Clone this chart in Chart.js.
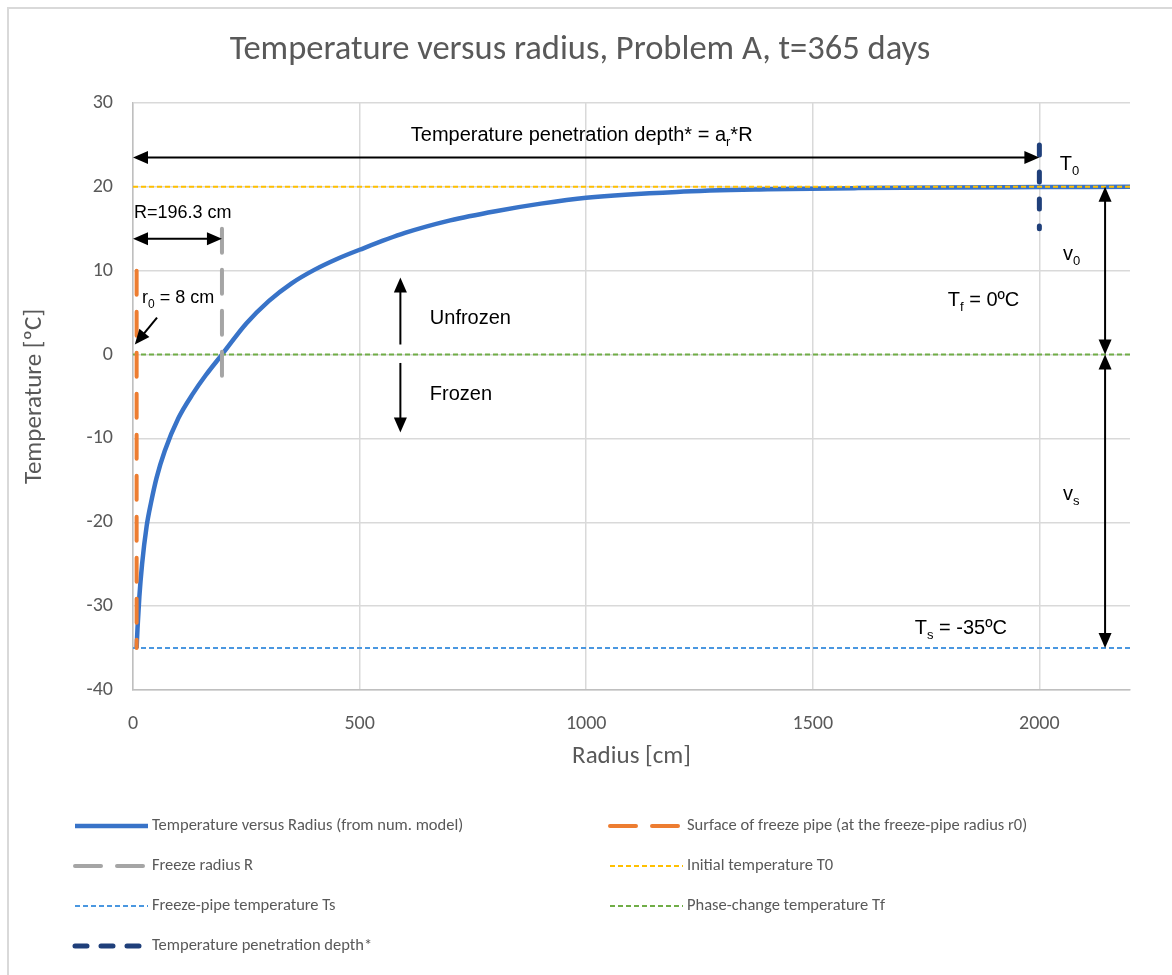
<!DOCTYPE html>
<html>
<head>
<meta charset="utf-8">
<script src="https://cdn.jsdelivr.net/npm/chart.js@4.4.0/dist/chart.umd.min.js"></script>
<style>
  body { margin: 0; background: #fff; }
  #wrap { width: 1172px; height: 975px; }
</style>
</head>
<body>
<div id="wrap"><canvas id="tempChart"></canvas></div>
<script>
// values
const radius = [8, 10, 14, 20, 30, 40, 52, 70, 100, 133, 160, 196.3, 250, 300, 350, 400, 450, 500, 600, 700, 800, 900, 1000, 1200, 1400, 1600, 1800, 2000, 2200];
const temperature = [-35, -32.6, -28.9, -25, -20.5, -17.6, -14.7, -11.5, -7.6, -4.6, -2.5, 0, 3.7, 6.4, 8.5, 10.1, 11.4, 12.5, 14.5, 16.0, 17.1, 18.0, 18.7, 19.4, 19.7, 19.85, 19.93, 19.97, 20];

const pipeRadius = 8;          // r0
const pipeLineT = [10, -35];
const freezeRadius = 196.3;    // R
const freezeLineT = [15, -3.5];
const depthRadius = 2000;      // penetration depth
const depthLineT = [25, 15];
const spanR = [0, 2200];
const T0 = 20;
const Tf = 0;
const Ts = -35;
const xTicks = [0, 500, 1000, 1500, 2000];

const labels = [
  "Temperature versus Radius (from num. model)",
  "Surface of freeze pipe (at the freeze-pipe radius r0)",
  "Freeze radius R",
  "Initial temperature T0",
  "Freeze-pipe temperature Ts",
  "Phase-change temperature Tf",
  "Temperature penetration depth*"
];

const pts = (xs, ys) => xs.map((x, i) => ({ x: x, y: ys[i] }));
const vline = (r, ts) => ts.map(t => ({ x: r, y: t }));
const hline = (t) => spanR.map(r => ({ x: r, y: t }));

const GRAY = "#595959";
const ARIAL = '"Liberation Sans", Arial, sans-serif';
const CAL = 'Carlito, Lato, sans-serif';

// text pieces: [text, isSubscript]
function rich(ctx, x, y, parts, size) {
  let cx = x;
  parts.forEach(p => {
    const sub = p[1];
    ctx.font = (sub ? Math.round(size * 0.65) : size) + "px " + ARIAL;
    ctx.fillText(p[0], cx, sub ? y + size * 0.25 : y);
    cx += ctx.measureText(p[0]).width;
  });
}

function arrow(ctx, x1, y1, x2, y2, atStart, atEnd) {
  const a = Math.atan2(y2 - y1, x2 - x1);
  const L = 15, W = 6.5;
  const sx = atStart ? x1 + Math.cos(a) * L * 0.8 : x1;
  const sy = atStart ? y1 + Math.sin(a) * L * 0.8 : y1;
  const ex = atEnd ? x2 - Math.cos(a) * L * 0.8 : x2;
  const ey = atEnd ? y2 - Math.sin(a) * L * 0.8 : y2;
  ctx.beginPath();
  ctx.moveTo(sx, sy);
  ctx.lineTo(ex, ey);
  ctx.stroke();
  const head = (tx, ty, ang) => {
    ctx.beginPath();
    ctx.moveTo(tx, ty);
    ctx.lineTo(tx - Math.cos(ang) * L + Math.sin(ang) * W, ty - Math.sin(ang) * L - Math.cos(ang) * W);
    ctx.lineTo(tx - Math.cos(ang) * L - Math.sin(ang) * W, ty - Math.sin(ang) * L + Math.cos(ang) * W);
    ctx.closePath();
    ctx.fill();
  };
  if (atEnd) head(x2, y2, a);
  if (atStart) head(x1, y1, a + Math.PI);
}

const extras = {
  id: "extras",
  beforeDraw(chart) {
    const ctx = chart.ctx;
    ctx.save();
    ctx.fillStyle = "#fff";
    ctx.fillRect(0, 0, chart.width, chart.height);
    ctx.strokeStyle = "#D9D9D9";
    ctx.lineWidth = 2;
    ctx.beginPath();
    ctx.moveTo(8, chart.height + 5);
    ctx.lineTo(8, 8);
    ctx.lineTo(chart.width + 5, 8);
    ctx.stroke();
    ctx.restore();
  },
  afterDraw(chart) {
    const ctx = chart.ctx;
    const x = v => chart.scales.x.getPixelForValue(v);
    const y = v => chart.scales.y.getPixelForValue(v);
    ctx.save();

    // title
    ctx.fillStyle = GRAY;
    ctx.font = "34.5px " + CAL;
    ctx.textAlign = "center";
    ctx.textBaseline = "middle";
    ctx.fillText("Temperature versus radius, Problem A, t=365 days", 580, 50);

    // arrows
    ctx.strokeStyle = "#000";
    ctx.fillStyle = "#000";
    ctx.lineWidth = 2;
    arrow(ctx, x(0), y(23.5), x(depthRadius), y(23.5), true, true);
    arrow(ctx, x(0), y(13.8), x(freezeRadius), y(13.8), true, true);
    arrow(ctx, x(53), y(4.4), x(4), y(1.2), false, true);
    arrow(ctx, x(590), y(1.2), x(590), y(9.2), false, true);
    arrow(ctx, x(590), y(-1), x(590), y(-9.3), false, true);
    arrow(ctx, x(2145), y(Tf), x(2145), y(T0), true, true);
    arrow(ctx, x(2145), y(Ts), x(2145), y(Tf), true, true);

    // labels
    ctx.textAlign = "left";
    ctx.textBaseline = "alphabetic";
    rich(ctx, x(613), y(25.5), [["Temperature penetration depth* = a"], ["r", 1], ["*R"]], 20);
    rich(ctx, x(2045), y(22), [["T"], ["0", 1]], 20);
    rich(ctx, x(2), y(16.3), [["R=196.3 cm"]], 18);
    rich(ctx, x(20), y(6.1), [["r"], ["0", 1], [" = 8 cm"]], 18);
    rich(ctx, x(655), y(3.6), [["Unfrozen"]], 20);
    rich(ctx, x(655), y(-5.4), [["Frozen"]], 20);
    rich(ctx, x(2052), y(11.3), [["v"], ["0", 1]], 20);
    rich(ctx, x(1798), y(5.8), [["T"], ["f", 1], [" = 0ºC"]], 20);
    rich(ctx, x(2052), y(-17.3), [["v"], ["s", 1]], 20);
    rich(ctx, x(1725), y(-33.3), [["T"], ["s", 1], [" = -35ºC"]], 20);

    // legend, two columns
    const colX = [75, 610];
    const rowY = [826, 866, 906, 946];
    ctx.font = "16.5px " + CAL;
    ctx.fillStyle = GRAY;
    ctx.textBaseline = "middle";
    chart.data.datasets.forEach((ds, i) => {
      const lx = colX[i % 2];
      const ly = rowY[Math.floor(i / 2)];
      ctx.save();
      ctx.strokeStyle = ds.borderColor;
      ctx.lineWidth = ds.borderWidth;
      ctx.lineCap = ds.borderCapStyle || "butt";
      ctx.setLineDash(ds.legendDash || ds.borderDash || []);
      ctx.beginPath();
      ctx.moveTo(lx, ly);
      ctx.lineTo(lx + 73, ly);
      ctx.stroke();
      ctx.restore();
      ctx.fillText(ds.label, lx + 77, ly);
    });
    ctx.restore();
  }
};

new Chart(document.getElementById("tempChart"), {
  type: "line",
  data: {
    datasets: [
      { label: labels[0], data: pts(radius, temperature), borderColor: "#3873C8", borderWidth: 4.5, cubicInterpolationMode: "monotone", order: 1 },
      { label: labels[1], data: vline(pipeRadius, pipeLineT), borderColor: "#ED7D31", borderWidth: 4, borderDash: [24, 17], legendDash: [26, 16], borderCapStyle: "round" },
      { label: labels[2], data: vline(freezeRadius, freezeLineT), borderColor: "#A5A5A5", borderWidth: 4, borderDash: [24, 17], legendDash: [26, 16], borderCapStyle: "round" },
      { label: labels[3], data: hline(T0), borderColor: "#FFC000", borderWidth: 2, borderDash: [5, 3] },
      { label: labels[4], data: hline(Ts), borderColor: "#4A97E0", borderWidth: 2, borderDash: [5, 3] },
      { label: labels[5], data: hline(Tf), borderColor: "#70AD47", borderWidth: 2, borderDash: [5, 3] },
      { label: labels[6], data: vline(depthRadius, depthLineT), borderColor: "#1F3F7A", borderWidth: 5, borderDash: [10, 17], legendDash: [12, 14], borderCapStyle: "round" }
    ]
  },
  options: {
    responsive: true,
    maintainAspectRatio: false,
    animation: false,
    elements: { point: { radius: 0 } },
    layout: { padding: { top: 103, right: 42, bottom: 195, left: 0 } },
    plugins: { legend: { display: false }, tooltip: { enabled: false } },
    scales: {
      x: {
        type: "linear",
        min: 0,
        max: 2200,
        afterBuildTicks: s => { s.ticks = xTicks.map(v => ({ value: v })); },
        ticks: { color: GRAY, font: { family: CAL, size: 20 }, padding: 22, callback: v => String(v) },
        grid: { color: "#D9D9D9", lineWidth: 1.5, drawTicks: false },
        border: { color: "#BFBFBF", width: 1.5 },
        title: { display: true, text: "Radius [cm]", color: GRAY, font: { family: CAL, size: 25 }, padding: { bottom: 8 } },
        afterFit: s => { s.height = 90; }
      },
      y: {
        min: -40,
        max: 30,
        ticks: { stepSize: 10, color: GRAY, font: { family: CAL, size: 20 }, padding: 20 },
        grid: { color: "#D9D9D9", lineWidth: 1.5, drawTicks: false },
        border: { color: "#BFBFBF", width: 1.5 },
        title: { display: true, text: "Temperature [ºC]", color: GRAY, font: { family: CAL, size: 25 }, padding: { top: 20 } },
        afterFit: s => { s.width = 133; }
      }
    }
  },
  plugins: [extras]
});
</script>
</body>
</html>
